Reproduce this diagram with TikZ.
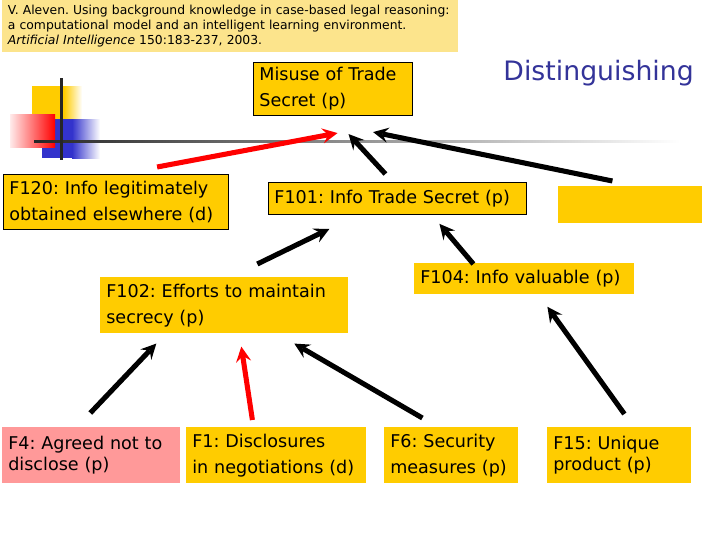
\documentclass[tikz,border=0pt]{standalone}
\usepackage{fontspec}
\setmainfont{DejaVu Sans}
\usepackage{tikz}
\usetikzlibrary{shapes, arrows, positioning}
\usepackage{xcolor}
\definecolor{fyellow}{RGB}{255,204,0}
\definecolor{fpink}{RGB}{255,153,153}
\definecolor{citeyellow}{RGB}{252,228,140}
\definecolor{titleblue}{RGB}{51,51,153}
\definecolor{decoblue}{RGB}{51,51,204}
\tikzstyle{arrow}    = [line width=3.6pt,->,>=stealth]
\frenchspacing

\begin{document}
\begin{tikzpicture}[x=0.025cm, y=-0.025cm, font=\fontsize{12.5}{18.5}\selectfont]
    \useasboundingbox (0,0) rectangle (720,540);
    \tikzstyle{fct}=[rectangle, fill=fyellow, anchor=north west, inner xsep=0.15cm,
                     inner ysep=0pt, align=left]
    \tikzstyle{brd}=[draw=black, line width=0.6pt]
    % title bits
    \node (cite) [fill=citeyellow, anchor=north west, minimum width=11.38cm, minimum height=1.3cm,
                  text width=11.1cm, inner xsep=0.14cm, align=left,
                  font=\fontsize{8.8}{10.6}\selectfont] at (2,0)
        {V. Aleven. Using background knowledge in case-based legal reasoning:\\
         a computational model and an intelligent learning environment.\\
         \textit{Artificial Intelligence} 150:183-237, 2003.};
    \node (title) [anchor=base east, text=titleblue, font=\fontsize{19}{22}\selectfont, inner sep=0pt]
        at (694,80) {Distinguishing};
    % decoration
    \fill[fyellow] (32,86) rectangle (64,135);
    \shade[left color=fyellow, right color=white] (64,86) rectangle (82,135);
    \fill[decoblue] (42,119) rectangle (72,158);
    \shade[left color=decoblue, right color=white] (72,119) rectangle (100,158);
    \shade[left color=red!8, right color=red] (10,114) rectangle (55,147);
    \shade[left color=black!85, middle color=black!45, right color=white] (34,140) rectangle (680,142.5);
    \fill[black!85] (60,78) rectangle (62.5,160);
    % factors
    \node (misuse) [fct, brd, text width=3.68cm, minimum height=1.33cm] at (253,62)
        {Misuse of Trade\\Secret (p)};
    \node (f120) [fct, brd, text width=5.33cm, minimum height=1.38cm] at (3,174)
        {F120: Info legitimately\\obtained elsewhere (d)};
    \node (f101) [fct, brd, text width=6.15cm, minimum height=0.8cm] at (268,182)
        {F101: Info Trade Secret (p)};
    \node (blank) [fct, text width=3.28cm, minimum height=0.93cm] at (558,186) {};
    \node (f102) [fct, text width=5.9cm, minimum height=1.4cm] at (100,277)
        {F102: Efforts to maintain\\secrecy (p)};
    \node (f104) [fct, text width=5.18cm, minimum height=0.78cm] at (414,263)
        {F104: Info valuable (p)};
    \node (f4) [fct, fill=fpink, text width=4.15cm, minimum height=1.4cm,
                font=\fontsize{12.5}{15}\selectfont] at (2,427)
        {F4: Agreed not to\\disclose (p)};
    \node (f1) [fct, text width=4.18cm, minimum height=1.4cm] at (186,427)
        {F1: Disclosures\\in negotiations (d)};
    \node (f6) [fct, text width=3.03cm, minimum height=1.4cm] at (384,427)
        {F6: Security\\measures (p)};
    \node (f15) [fct, text width=3.28cm, minimum height=1.4cm,
                 font=\fontsize{12.5}{15}\selectfont] at (547,427)
        {F15: Unique\\product (p)};
    % links
    \draw[arrow, red] ([shift={(-72,-7)}]f120.north east) -- ([shift={(4.5,17)}]misuse.south);
    \draw[arrow] ([shift={(-12,-8)}]f101.north) -- ([shift={(15.5,18)}]misuse.south);
    \draw[arrow] ([shift={(-17.5,-5)}]blank.north) -- ([shift={(-40,16)}]misuse.south east);
    \draw[arrow] ([shift={(33,-13)}]f102.north) -- ([shift={(-68,14)}]f101.south);
    \draw[arrow] ([shift={(-50.5,1)}]f104.north) -- ([shift={(42,9)}]f101.south);
    \draw[arrow] ([shift={(-1,-14)}]f4.north) -- ([shift={(-68,10)}]f102.south);
    \draw[arrow, red] ([shift={(-23.5,-7)}]f1.north) -- ([shift={(17,13)}]f102.south);
    \draw[arrow] ([shift={(-28.5,-9)}]f6.north) -- ([shift={(70,10)}]f102.south);
    \draw[arrow] ([shift={(5.5,-13)}]f15.north) -- ([shift={(23.5,12)}]f104.south);
\end{tikzpicture}
\end{document}
